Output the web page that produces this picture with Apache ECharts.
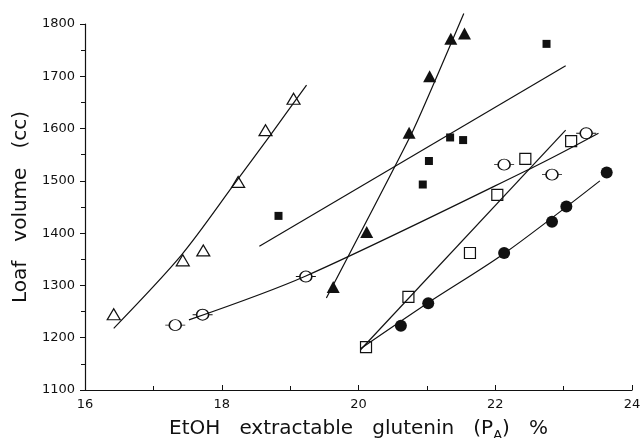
<!DOCTYPE html>
<html>
<head>
<meta charset="utf-8">
<script src="https://cdn.jsdelivr.net/npm/echarts@6/dist/echarts.min.js"></script>
<style>
  html, body { margin: 0; padding: 0; background: #fff; }
  #chart { width: 640px; height: 438px; }
</style>
</head>
<body>
<div id="chart"></div>
<script>
// ---- data ----
const xTicks = [16, 18, 20, 22, 24];
const yTicks = [1100, 1200, 1300, 1400, 1500, 1600, 1700, 1800];

const openTriangles   = [[16.42,1245],[17.43,1348],[17.73,1367],[18.24,1498],[18.64,1597],[19.05,1657]];
const filledTriangles = [[19.63,1297],[20.12,1402],[20.74,1592],[21.04,1700],[21.35,1772],[21.55,1782]];
const filledSquares   = [[18.83,1433],[20.94,1493],[21.03,1538],[21.34,1583],[21.53,1578],[22.75,1762]];
const openCircles     = [[17.32,1224],[17.72,1244],[19.23,1317],[22.13,1531],[22.83,1512],[23.33,1591]];
const openSquares     = [[20.11,1182],[20.73,1278],[21.63,1362],[22.03,1473],[22.44,1542],[23.11,1576]];
const filledCircles   = [[20.62,1223],[21.02,1266],[22.13,1362],[22.83,1422],[23.04,1451],[23.63,1516]];

// fitted lines (as drawn in the reference)
const openTriFit    = [[16.42,1218],[17.41,1358],[18.19,1495],[18.73,1591],[19.24,1683]];
const filledTriFit  = [[19.53,1276],[20.80,1597],[21.54,1820]];
const filledSqFit   = [[18.55,1375],[23.03,1720]];
const openCircFit   = [[17.52,1234],[19.23,1318],[22.57,1527],[23.51,1591]];
const openSqFit     = [[20.03,1177],[23.03,1597]];
const filledCircFit = [[20.04,1180],[21.02,1267],[22.13,1361],[23.53,1500]];

const INK = '#111';
const FONT = 'DejaVu Sans';

const chart = echarts.init(document.getElementById('chart'), null, { renderer: 'canvas' });

function fitLine(data, smooth) {
  return {
    type: 'line', data: data, symbol: 'none', smooth: smooth || false,
    clip: false, silent: true, z: 2,
    lineStyle: { color: INK, width: 1.2 }
  };
}
function markers(data, symbol, size, filled) {
  return {
    type: 'scatter', data: data, symbol: symbol, symbolSize: size, z: 3,
    itemStyle: {
      color: filled ? INK : 'transparent',
      borderColor: INK, borderWidth: filled ? 0 : 1.2, opacity: 1
    }
  };
}

const circleBars = 'path://M0,6H4M16,6H20M4,6A6,6 0 1,1 16,6A6,6 0 1,1 4,6Z';

chart.setOption({
  animation: false,
  backgroundColor: '#fff',
  grid: { left: 85, right: 8, top: 24, bottom: 48, containLabel: false, outerBoundsMode: 'none' },
  xAxis: {
    type: 'value', min: xTicks[0], max: xTicks[xTicks.length - 1], interval: 2,
    name: '{t|EtOH   extractable   glutenin   (P}{s|A}{t|)   %}',
    nameLocation: 'middle', nameGap: 25,
    nameTextStyle: {
      rich: {
        t: { fontFamily: FONT, fontSize: 20, color: INK },
        s: { fontFamily: FONT, fontSize: 13, color: INK, padding: [14, 0, 0, 0] }
      }
    },
    axisLine: { show: true, onZero: false, lineStyle: { color: INK, width: 1.2 } },
    axisTick: { show: true, inside: true, length: 5, lineStyle: { color: INK, width: 1 } },
    minorTick: { show: true, splitNumber: 2, length: 4, lineStyle: { color: INK, width: 1 } },
    axisLabel: { fontFamily: FONT, fontSize: 13, color: INK, margin: 8, formatter: v => String(v) },
    splitLine: { show: false }
  },
  yAxis: {
    type: 'value', min: yTicks[0], max: yTicks[yTicks.length - 1], interval: 100,
    name: 'Loaf   volume   (cc)',
    nameLocation: 'middle', nameGap: 45, nameRotate: 90,
    nameTextStyle: { fontFamily: FONT, fontSize: 20, color: INK },
    axisLine: { show: true, onZero: false, lineStyle: { color: INK, width: 1.2 } },
    axisTick: { show: true, inside: false, length: 5, lineStyle: { color: INK, width: 1 } },
    minorTick: { show: true, splitNumber: 2, length: 4, lineStyle: { color: INK, width: 1 } },
    axisLabel: { fontFamily: FONT, fontSize: 13, color: INK, margin: 10, formatter: v => String(v) },
    splitLine: { show: false }
  },
  series: [
    fitLine(openTriFit, 0.3),
    fitLine(filledTriFit, 0.15),
    fitLine(filledSqFit),
    fitLine(openCircFit, 0.3),
    fitLine(openSqFit),
    fitLine(filledCircFit, 0.3),
    markers(openTriangles, 'triangle', [13, 11], false),
    markers(filledTriangles, 'triangle', [13, 12], true),
    markers(filledSquares, 'rect', [8, 8], true),
    markers(openCircles, circleBars, [20, 11], false),
    markers(openSquares, 'rect', [11, 11], false),
    markers(filledCircles, 'circle', 12, true)
  ]
});
</script>
</body>
</html>
